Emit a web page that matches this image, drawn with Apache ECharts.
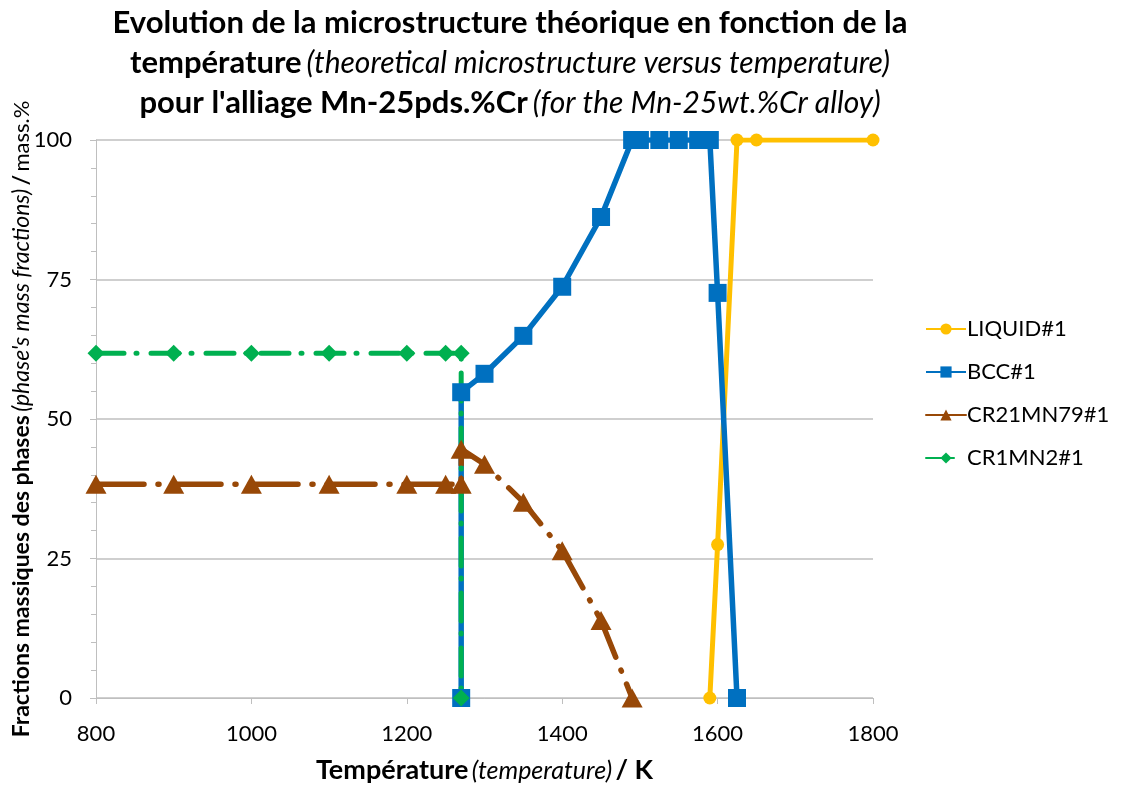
<!DOCTYPE html>
<html>
<head>
<meta charset="utf-8">
<script src="https://cdn.jsdelivr.net/npm/echarts@6/dist/echarts.min.js"></script>
<style>
  html, body { margin: 0; padding: 0; background: #ffffff; }
  #chart { width: 1136px; height: 785px; }
</style>
</head>
<body>
<div id="chart"></div>
<script>
// données (températures en K, fractions en %)
const liquidT = [1590, 1600, 1625, 1650, 1800];
const liquidV = [0, 27.5, 100, 100, 100];

const bccT = [1270, 1270, 1300, 1350, 1400, 1450, 1490, 1500, 1525, 1550, 1575, 1590, 1600, 1625];
const bccV = [0, 54.8, 58.1, 64.9, 73.7, 86.2, 100, 100, 100, 100, 100, 100, 72.6, 0];

const cr21T = [800, 900, 1000, 1100, 1200, 1250, 1270, 1270, 1300, 1350, 1400, 1450, 1490];
const cr21V = [38.3, 38.3, 38.3, 38.3, 38.3, 38.3, 38.3, 44.6, 41.9, 35.1, 26.4, 13.9, 0];

const cr1T = [800, 900, 1000, 1100, 1200, 1250, 1270, 1270];
const cr1V = [61.8, 61.8, 61.8, 61.8, 61.8, 61.8, 61.8, 0];

const xTicks = [800, 1000, 1200, 1400, 1600, 1800];
const yTicks = [0, 25, 50, 75, 100];

function pairs(t, v) {
  return t.map(function (x, i) { return [x, v[i]]; });
}

const FONT = 'Lato';
const chart = echarts.init(document.getElementById('chart'));

const option = {
  backgroundColor: '#ffffff',
  animation: false,
  title: {
    left: 505,
    top: -2,
    textAlign: 'center',
    text: '{b|Evolution de la microstructure théorique en fonction de la}\n' +
          '{b|température} {i|(theoretical microstructure versus temperature)}\n' +
          '{b|pour l\'alliage Mn-25pds.%Cr} {i|(for the Mn-25wt.%Cr alloy)}',
    textStyle: {
      lineHeight: 40,
      rich: {
        b: { fontFamily: FONT, fontWeight: 'bold', fontSize: 31, color: '#000000', lineHeight: 40 },
        i: { fontFamily: FONT, fontStyle: 'italic', fontWeight: 'normal', fontSize: 30, color: '#000000', lineHeight: 40 }
      }
    }
  },
  grid: {
    left: 96,
    right: 263,
    top: 140,
    bottom: 87,
    containLabel: false,
    outerBoundsMode: 'none'
  },
  legend: {
    orient: 'vertical',
    left: 920,
    top: 313,
    itemWidth: 40,
    itemHeight: 14,
    itemGap: 21,
    data: ['LIQUID#1', 'BCC#1', 'CR21MN79#1', 'CR1MN2#1'],
    textStyle: { fontFamily: FONT, fontSize: 22, color: '#000000', padding: [0, 0, 0, -4] }
  },
  xAxis: {
    type: 'value',
    min: 800,
    max: 1800,
    interval: 200,
    name: '{b|Température} {i|(temperature)} {b|/ K}',
    nameLocation: 'middle',
    nameGap: 59,
    nameMoveOverlap: false,
    nameTextStyle: {
      rich: {
        b: { fontFamily: FONT, fontWeight: 'bold', fontSize: 27, color: '#000000' },
        i: { fontFamily: FONT, fontStyle: 'italic', fontSize: 25, color: '#000000' }
      }
    },
    axisLine: { show: true, lineStyle: { color: '#bfbfbf', width: 1 } },
    axisTick: { show: true, inside: false, length: 6, lineStyle: { color: '#bfbfbf' } },
    axisLabel: {
      fontFamily: FONT, fontSize: 22, color: '#000000', margin: 25,
      formatter: function (v) { return xTicks.indexOf(v) >= 0 ? String(v) : ''; }
    },
    splitLine: { show: false }
  },
  yAxis: {
    type: 'value',
    min: 0,
    max: 100,
    interval: 25,
    name: '{b|Fractions massiques des phases} {i|(phase\'s mass fractions)} {b|/} {n|mass.%}',
    nameLocation: 'middle',
    nameRotate: 90,
    nameGap: 74,
    nameMoveOverlap: false,
    nameTextStyle: {
      verticalAlign: 'middle',
      rich: {
        b: { fontFamily: FONT, fontWeight: 'bold', fontSize: 23, color: '#000000' },
        i: { fontFamily: FONT, fontStyle: 'italic', fontSize: 23, color: '#000000' },
        n: { fontFamily: FONT, fontSize: 22, color: '#000000' }
      }
    },
    axisLine: { show: true, lineStyle: { color: '#bfbfbf', width: 1 } },
    axisTick: { show: true, inside: false, length: 6, lineStyle: { color: '#bfbfbf' } },
    minorTick: { show: true, splitNumber: 5, length: 5, lineStyle: { color: '#bfbfbf' } },
    axisLabel: {
      fontFamily: FONT, fontSize: 22, color: '#000000', margin: 24,
      formatter: function (v) { return yTicks.indexOf(v) >= 0 ? String(v) : ''; }
    },
    splitLine: { show: true, lineStyle: { color: '#bfbfbf', width: 1.5 } }
  },
  series: [
    {
      name: 'LIQUID#1',
      type: 'line',
      data: pairs(liquidT, liquidV),
      symbol: 'circle',
      symbolSize: 13,
      color: '#FFC000',
      lineStyle: { width: 5, color: '#FFC000' },
      itemStyle: { color: '#FFC000' }
    },
    {
      name: 'BCC#1',
      type: 'line',
      data: pairs(bccT, bccV),
      symbol: 'rect',
      symbolSize: 18,
      color: '#0070C0',
      lineStyle: { width: 5.5, color: '#0070C0' },
      itemStyle: { color: '#0070C0' }
    },
    {
      name: 'CR21MN79#1',
      type: 'line',
      data: pairs(cr21T, cr21V),
      symbol: 'triangle',
      symbolSize: [21, 19],
      color: '#984807',
      lineStyle: { width: 5.5, color: '#984807', type: [48, 14, 1, 14], cap: 'round' },
      itemStyle: { color: '#984807' }
    },
    {
      name: 'CR1MN2#1',
      type: 'line',
      data: pairs(cr1T, cr1V),
      symbol: 'diamond',
      symbolSize: [17, 17],
      color: '#00B050',
      lineStyle: { width: 5, color: '#00B050', type: [28, 12, 1, 14], cap: 'round' },
      itemStyle: { color: '#00B050' }
    }
  ]
};

chart.setOption(option);
</script>
</body>
</html>
